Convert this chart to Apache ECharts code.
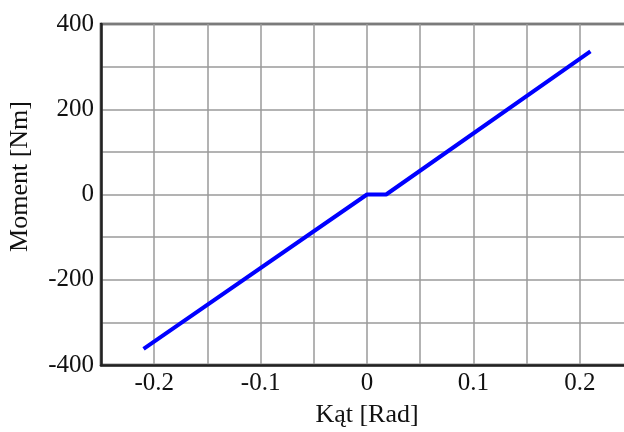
<!DOCTYPE html>
<html>
<head>
<meta charset="utf-8">
<script src="https://cdn.jsdelivr.net/npm/echarts@6/dist/echarts.min.js"></script>
<style>
  html, body { margin: 0; padding: 0; background: #fff; }
  #chart { width: 624px; height: 432px; }
</style>
</head>
<body>
<div id="chart"></div>
<script>
// angle [rad] vs moment [Nm]
const angle = [-0.21, 0, 0.018, 0.21];
const moment = [-362, 0, 0, 336];
const xTickLabels = [-0.2, -0.1, 0, 0.1, 0.2];
const yTickLabels = [-400, -200, 0, 200, 400];

const chart = echarts.init(document.getElementById('chart'));
const serif = 'Liberation Serif';

const option = {
  backgroundColor: '#fff',
  animation: false,
  grid: {
    left: 101, top: 24, width: 532, height: 341,
    outerBoundsMode: 'none',
    show: true, borderColor: '#222', borderWidth: 2.5
  },
  xAxis: {
    type: 'value',
    min: -0.25, max: 0.25, interval: 0.05,
    name: 'Kąt [Rad]',
    nameLocation: 'middle',
    nameGap: 37,
    nameTextStyle: { fontFamily: serif, fontSize: 26, color: '#111' },
    axisLine: { onZero: false, lineStyle: { color: '#222', width: 2.5 } },
    axisTick: { show: false },
    axisLabel: {
      fontFamily: serif, fontSize: 25, color: '#111', margin: 6,
      formatter: v => {
        const hit = xTickLabels.find(t => Math.abs(t - v) < 1e-6);
        return hit === undefined ? '' : String(hit);
      }
    },
    splitLine: { lineStyle: { color: '#9a9a9a', width: 1.5 } }
  },
  yAxis: {
    type: 'value',
    min: -400, max: 400, interval: 100,
    name: 'Moment [Nm]',
    nameLocation: 'middle',
    nameGap: 68,
    nameRotate: 90,
    nameTextStyle: { fontFamily: serif, fontSize: 26, color: '#111', padding: [0, 0, 0, 36] },
    axisLine: { onZero: false, lineStyle: { color: '#222', width: 2.5 } },
    axisTick: { show: false },
    axisLabel: {
      fontFamily: serif, fontSize: 25, color: '#111', margin: 7,
      formatter: v => yTickLabels.includes(v) ? String(v) : ''
    },
    splitLine: { lineStyle: { color: '#9a9a9a', width: 1.5 } }
  },
  series: [{
    type: 'line',
    data: angle.map((a, i) => [a, moment[i]]),
    showSymbol: false,
    lineStyle: { color: '#0000ff', width: 4 },
    z: 5
  }]
};
chart.setOption(option);
</script>
</body>
</html>
